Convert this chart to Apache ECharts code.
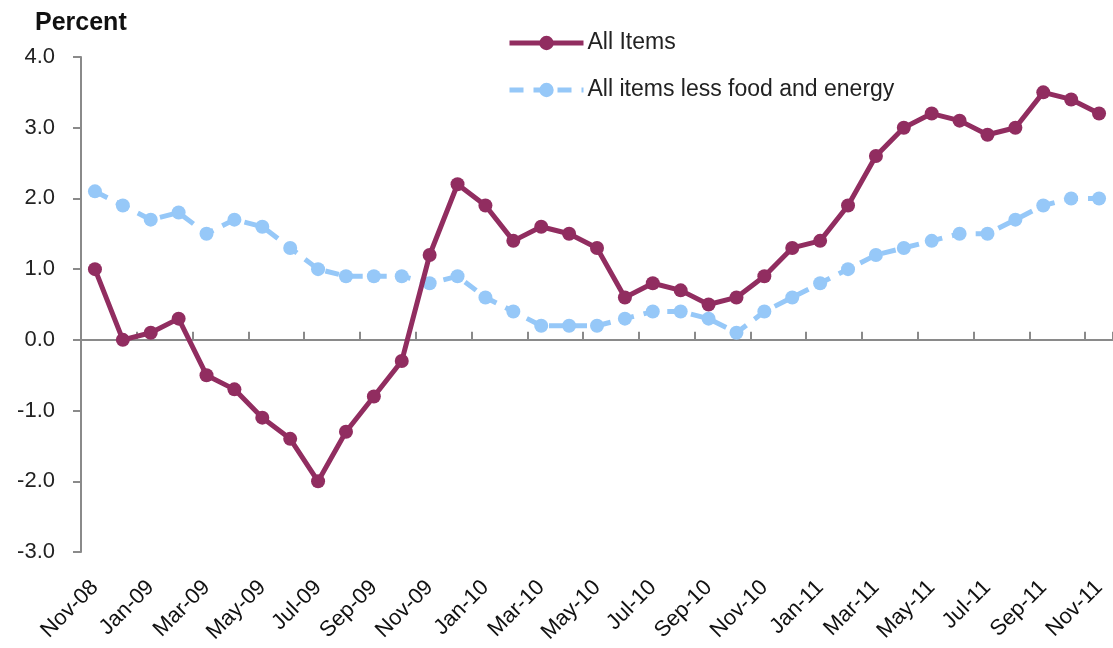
<!DOCTYPE html>
<html>
<head>
<meta charset="utf-8">
<script src="https://cdn.jsdelivr.net/npm/echarts@6/dist/echarts.min.js"></script>
<style>
  html, body { margin: 0; padding: 0; background: #fff; overflow: hidden; }
  #chart { width: 1113px; height: 648px; }
</style>
</head>
<body>
<div id="chart"></div>
<script>
// months, Nov-08 .. Nov-11
const months = ['Nov-08','Dec-08','Jan-09','Feb-09','Mar-09','Apr-09','May-09','Jun-09','Jul-09','Aug-09','Sep-09','Oct-09',
  'Nov-09','Dec-09','Jan-10','Feb-10','Mar-10','Apr-10','May-10','Jun-10','Jul-10','Aug-10','Sep-10','Oct-10',
  'Nov-10','Dec-10','Jan-11','Feb-11','Mar-11','Apr-11','May-11','Jun-11','Jul-11','Aug-11','Sep-11','Oct-11','Nov-11'];

// 12-month percent change
const allItems = [1.0, 0.0, 0.1, 0.3, -0.5, -0.7, -1.1, -1.4, -2.0, -1.3, -0.8, -0.3,
  1.2, 2.2, 1.9, 1.4, 1.6, 1.5, 1.3, 0.6, 0.8, 0.7, 0.5, 0.6,
  0.9, 1.3, 1.4, 1.9, 2.6, 3.0, 3.2, 3.1, 2.9, 3.0, 3.5, 3.4, 3.2];
const lessFoodEnergy = [2.1, 1.9, 1.7, 1.8, 1.5, 1.7, 1.6, 1.3, 1.0, 0.9, 0.9, 0.9,
  0.8, 0.9, 0.6, 0.4, 0.2, 0.2, 0.2, 0.3, 0.4, 0.4, 0.3, 0.1,
  0.4, 0.6, 0.8, 1.0, 1.2, 1.3, 1.4, 1.5, 1.5, 1.7, 1.9, 2.0, 2.0];

const yMin = -3, yMax = 4, yStep = 1;

const font = 'Liberation Sans, Arial';
const axisGray = '#8a8a8a';

const chart = echarts.init(document.getElementById('chart'));
const option = {
  animation: false,
  title: {
    text: 'Percent',
    left: 35, top: 11, padding: 0,
    textStyle: { fontFamily: font, fontSize: 25, fontWeight: 'bold', color: '#111' }
  },
  legend: {
    orient: 'vertical',
    left: 507, top: 31, padding: 0,
    itemWidth: 74, itemHeight: 18, itemGap: 23,
    lineStyle: { width: 5 },
    textStyle: { fontFamily: font, fontSize: 23, lineHeight: 24, color: '#222', padding: [0, 0, 0, -1] },
    data: ['All Items', 'All items less food and energy']
  },
  grid: { left: 81, right: -11, top: 57, bottom: 96 },
  xAxis: [
    {
      type: 'category',
      data: months,
      position: 'bottom',
      axisLine: { show: false, onZero: false },
      axisTick: { show: false },
      axisLabel: {
        interval: 1, rotate: 45, margin: 32,
        fontFamily: font, fontSize: 22, color: '#111'
      }
    },
    {
      // zero line with upward ticks
      type: 'category',
      data: months,
      position: 'top',
      axisLine: { show: true, onZero: true, lineStyle: { color: axisGray, width: 2 } },
      axisTick: { show: true, inside: false, interval: 1, length: 8, lineStyle: { color: axisGray, width: 2 } },
      axisLabel: { show: false }
    }
  ],
  yAxis: {
    type: 'value',
    min: yMin, max: yMax, interval: yStep,
    axisLine: { show: true, lineStyle: { color: axisGray, width: 2 } },
    axisTick: { show: true, length: 8, lineStyle: { color: axisGray, width: 2 } },
    splitLine: { show: false },
    axisLabel: {
      margin: 26,
      formatter: v => v.toFixed(1),
      fontFamily: font, fontSize: 22, color: '#222'
    }
  },
  series: [
    {
      name: 'All Items',
      type: 'line',
      data: allItems,
      symbol: 'circle', symbolSize: 14,
      itemStyle: { color: '#912d60' },
      lineStyle: { color: '#912d60', width: 5 }
    },
    {
      name: 'All items less food and energy',
      type: 'line',
      data: lessFoodEnergy,
      symbol: 'circle', symbolSize: 14,
      itemStyle: { color: '#96c8f8' },
      lineStyle: { color: '#96c8f8', width: 5, type: [14, 10] },
      z: 1
    }
  ]
};
chart.setOption(option);
</script>
</body>
</html>
